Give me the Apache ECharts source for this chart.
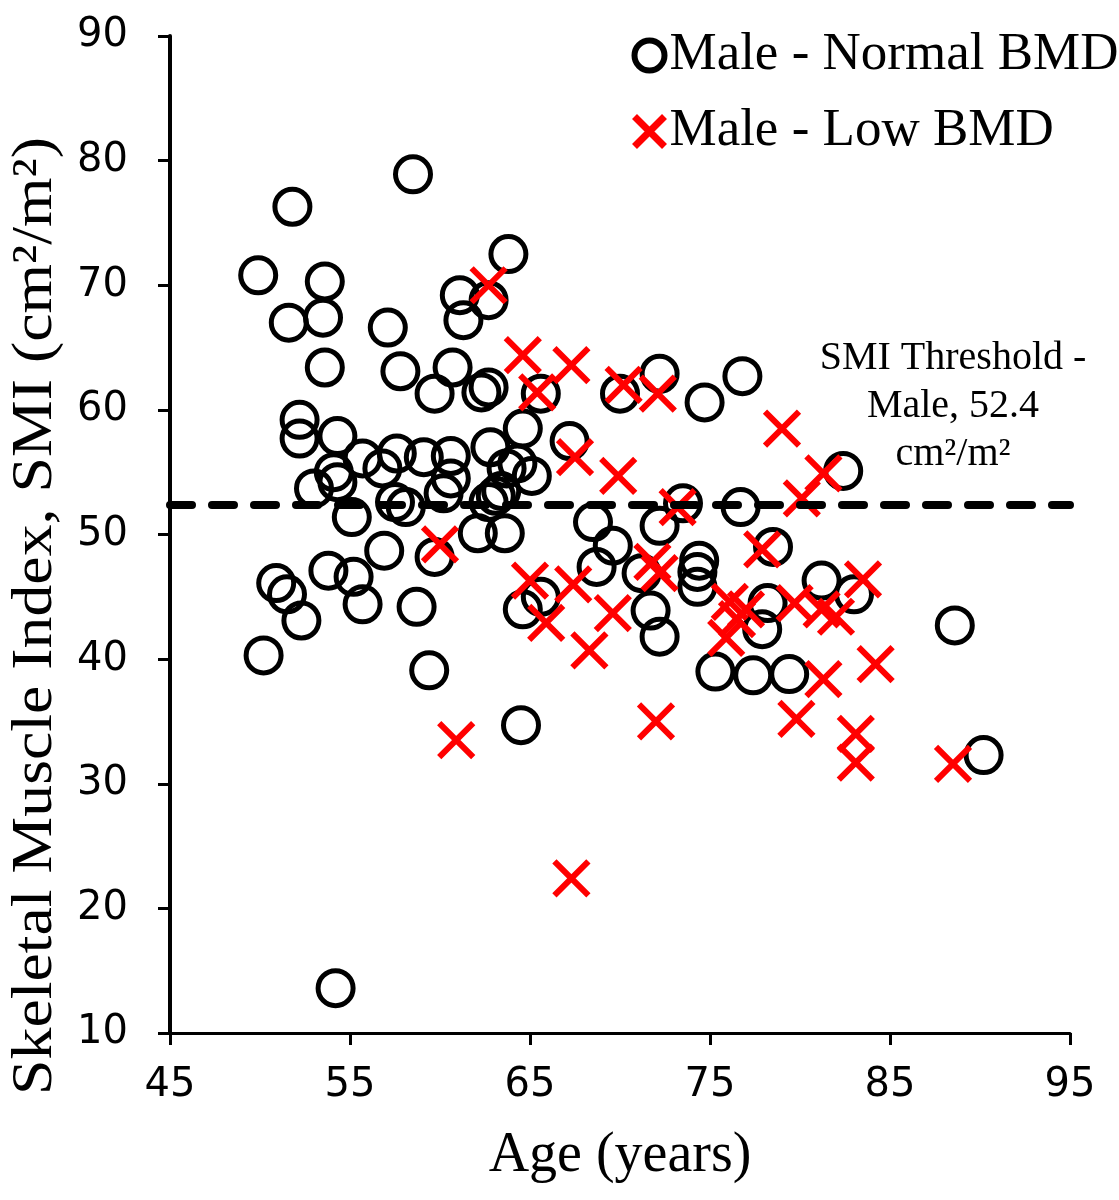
<!DOCTYPE html>
<html>
<head>
<meta charset="utf-8">
<script src="https://cdn.jsdelivr.net/npm/echarts@6/dist/echarts.min.js"></script>
<style>
html,body{margin:0;padding:0;background:#fff;}
#chart{width:1119px;height:1200px;}
</style>
</head>
<body>
<div id="chart"></div>
<script>
// ---- Data ----
const normalAge = [49.9,51.8,58.5,53.6,51.6,53.5,57.1,53.6,57.8,60.7,59.7,63.8,61.1,62.7,61.3,62.3,62.7,65.6,64.6,
  52.2,52.2,54.3,55.7,54.1,54.3,53.0,56.8,57.6,59.1,57.5,58.1,55.1,56.9,53.8,55.2,50.9,51.5,55.7,58.7,52.3,50.2,59.4,54.2,
  62.8,60.6,64.3,65.1,60.6,60.2,63.4,63.1,62.7,62.1,63.6,59.7,64.6,65.6,64.5,67.2,70.0,72.2,74.7,76.8,73.5,76.7,
  68.5,72.2,69.6,68.7,71.2,71.7,72.2,74.4,74.3,74.3,78.5,82.4,75.3,77.4,79.4,78.2,77.9,81.2,83.0,88.6,90.2,63.7];
const normalSMI = [70.8,76.3,78.9,70.3,67.0,67.4,66.6,63.4,63.1,63.4,61.3,72.5,69.2,68.8,67.2,61.4,61.8,61.3,58.5,
  59.2,57.7,57.9,56.1,55.0,54.2,53.7,55.3,56.5,56.2,52.6,52.2,51.4,48.7,47.1,46.6,46.1,45.2,44.4,44.2,43.1,40.3,39.1,13.6,
  57.0,56.3,55.7,54.7,54.5,53.3,53.5,53.1,52.6,50.1,50.1,48.2,44.0,45.0,34.7,57.5,61.3,62.9,60.6,62.7,52.5,52.2,
  51.0,50.7,49.1,47.4,46.9,43.9,41.8,47.9,47.0,45.8,49.0,55.1,39.0,38.7,38.8,44.5,42.4,46.3,45.2,42.7,32.3,55.3];

const lowAge = [62.7,64.6,67.3,65.4,70.2,72.1,79.0,67.5,69.9,73.2,80.1,81.3,60.0,65.0,65.9,67.4,69.6,68.3,71.8,72.2,
  72.0,60.9,67.3,77.9,76.1,76.5,75.9,77.0,79.7,81.2,82.0,83.5,84.2,81.3,79.8,83.1,83.1,88.5];
const lowSMI = [70.0,64.4,63.6,61.4,62.0,61.3,58.5,56.2,54.7,52.2,52.9,54.9,49.2,46.3,42.9,46.0,43.7,40.7,47.8,46.9,
  35.0,33.5,22.4,48.8,44.6,43.2,41.7,44.0,44.5,44.0,43.4,46.4,39.6,38.4,35.2,34.0,31.7,31.6];

const threshold = 52.4;
const xTicks = {min:45, max:95, interval:10};
const yTicks = {min:10, max:90, interval:10};

const seriesNames = ['Male - Normal BMD','Male - Low BMD'];
const xTitle = 'Age (years)';
const yTitle = 'Skeletal Muscle Index, SMI (cm²/m²)';
const noteText = 'SMI Threshold -\nMale, 52.4\ncm²/m²';
const crossPath = 'path://M0,0L10,10M10,0L0,10';

const chart = echarts.init(document.getElementById('chart'));
const serif = "'Liberation Serif','Times New Roman',serif";
const sans = "'DejaVu Sans',Verdana,sans-serif";

chart.setOption({
  animation:false,
  backgroundColor:'#fff',
  grid:{left:170,right:49,top:36,bottom:167,containLabel:false,outerBoundsMode:'none'},
  legend:{
    orient:'vertical', left:626, top:24, itemWidth:30, itemHeight:30, itemGap:23,
    textStyle:{fontFamily:serif,fontSize:53,color:'#000',lineHeight:52},
    data:[
      {name:seriesNames[0],icon:'circle',itemStyle:{color:'rgba(0,0,0,0)',borderColor:'#000',borderWidth:6}},
      {name:seriesNames[1],icon:crossPath,itemStyle:{color:'rgba(0,0,0,0)',borderColor:'#ff0000',borderWidth:7}}
    ]
  },
  xAxis:{
    type:'value', min:xTicks.min, max:xTicks.max, interval:xTicks.interval,
    name:xTitle, nameLocation:'middle', nameGap:95,
    nameTextStyle:{fontFamily:serif,fontSize:56,color:'#000'},
    axisLine:{show:true,lineStyle:{color:'#000',width:3}},
    axisTick:{show:true,inside:false,length:12,lineStyle:{color:'#000',width:3}},
    axisLabel:{fontFamily:sans,fontSize:40,color:'#000',margin:33},
    splitLine:{show:false}
  },
  yAxis:{
    type:'value', min:yTicks.min, max:yTicks.max, interval:yTicks.interval,
    axisLine:{show:true,lineStyle:{color:'#000',width:4}},
    axisTick:{show:true,inside:false,length:12,lineStyle:{color:'#000',width:3}},
    axisLabel:{fontFamily:sans,fontSize:40,color:'#000',margin:42},
    splitLine:{show:false}
  },
  series:[
    {
      name:seriesNames[0], type:'scatter', symbol:'circle', symbolSize:35,
      itemStyle:{color:'rgba(0,0,0,0)',borderColor:'#000',borderWidth:5,opacity:1},
      data:normalAge.map((a,i)=>[a,normalSMI[i]]),
      markLine:{
        silent:true, symbol:'none', animation:false,
        label:{show:false},
        lineStyle:{color:'#000',width:8,type:[22,20],cap:'round'},
        data:[{yAxis:threshold}]
      },
      z:2
    },
    {
      name:seriesNames[1], type:'scatter', symbol:crossPath, symbolSize:34,
      itemStyle:{color:'rgba(0,0,0,0)',borderColor:'#ff0000',borderWidth:6,opacity:1},
      data:lowAge.map((a,i)=>[a,lowSMI[i]]),
      z:3
    }
  ],
  graphic:[
    {type:'text', x:953, y:334, z:10,
     style:{text:noteText, font:"40px 'Liberation Serif'", fill:'#000', align:'center', verticalAlign:'top', lineHeight:48}},
    {type:'text', x:36, y:616, rotation:Math.PI/2, scaleX:1.1, z:10,
     style:{text:yTitle, font:"58px 'Liberation Serif'", fill:'#000', align:'center', verticalAlign:'middle'}}
  ]
});
</script>
</body>
</html>
